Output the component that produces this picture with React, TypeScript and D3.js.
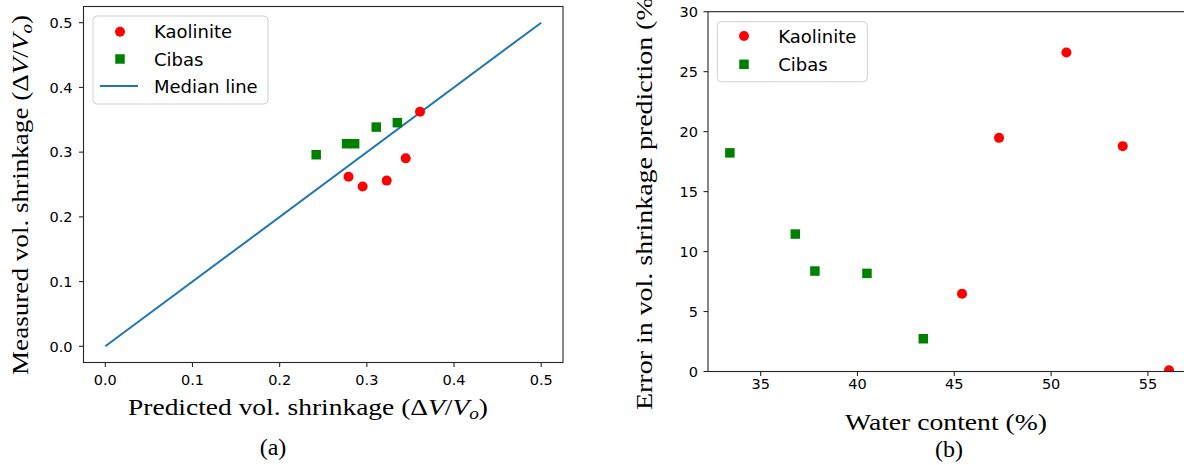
import React from 'react';
import * as d3 from 'd3';

// Panel (a): predicted vs measured volumetric shrinkage
const kaoPredicted = [0.361, 0.3446, 0.279, 0.2952, 0.3228];
const kaoMeasured = [0.3625, 0.2904, 0.262, 0.247, 0.256];
const cibPredicted = [0.2419, 0.2768, 0.286, 0.3108, 0.335];
const cibMeasured = [0.296, 0.313, 0.313, 0.3387, 0.3455];
const medianLine = [0, 0.5];
const aTicks = [0, 0.1, 0.2, 0.3, 0.4, 0.5];

// Panel (b): water content vs prediction error
const kaoWater = [50.79, 47.31, 53.7, 45.4, 56.09];
const kaoError = [26.6, 19.48, 18.79, 6.48, 0.1];
const cibWater = [33.41, 36.79, 37.8, 40.49, 43.4];
const cibError = [18.23, 11.46, 8.375, 8.18, 2.73];
const bXTicks = [35, 40, 45, 50, 55];
const bYTicks = [0, 5, 10, 15, 20, 25, 30];

const RED = '#ff0000';
const GREEN = '#008000';
const BLUE = '#1f77b4';
const SPINE = '#262626';
const SANS = "'DejaVu Sans', sans-serif";
const SERIF = "'Liberation Serif', 'DejaVu Serif', serif";

const MathFrac = () => (
  <>
    <tspan>(Δ</tspan>
    <tspan fontStyle="italic">V</tspan>
    <tspan>/</tspan>
    <tspan fontStyle="italic">V</tspan>
    <tspan fontStyle="italic" fontSize="0.7em" dy="4">o</tspan>
    <tspan dy="-4">)</tspan>
  </>
);

export default function App() {
  const xa = d3.scaleLinear().domain([-0.025, 0.525]).range([83.5, 563]);
  const ya = d3.scaleLinear().domain([-0.025, 0.525]).range([362.5, 6.5]);
  const xb = d3.scaleLinear().domain([32.28, 57.22]).range([708, 1190.9]);
  const yb = d3.scaleLinear().domain([0, 30]).range([371.5, 11.7]);

  const line = d3.line<number>().x((d) => xa(d)).y((d) => ya(d));
  const fmtA = d3.format('.1f');
  const sq = 9.5;

  return (
    <div style={{ position: 'absolute', left: 0, top: 0 }}>
      <svg width={1184} height={465} style={{ display: 'block', background: '#fff' }}>
        <defs>
          <clipPath id="clipB">
            <rect x={xb.range()[0]} y={yb.range()[1]} width={xb.range()[1] - xb.range()[0]} height={yb.range()[0] - yb.range()[1]} />
          </clipPath>
          <clipPath id="clipA">
            <rect x={xa.range()[0]} y={ya.range()[1]} width={xa.range()[1] - xa.range()[0]} height={ya.range()[0] - ya.range()[1]} />
          </clipPath>
        </defs>

        {/* ===== Panel (a) ===== */}
        <g clipPath="url(#clipA)">
          <path d={line(medianLine) || ''} stroke={BLUE} strokeWidth={2} fill="none" />
          {kaoPredicted.map((v, i) => (
            <circle key={'ka' + i} cx={xa(v)} cy={ya(kaoMeasured[i])} r={5} fill={RED} />
          ))}
          {cibPredicted.map((v, i) => (
            <rect key={'ca' + i} x={xa(v) - sq / 2} y={ya(cibMeasured[i]) - sq / 2} width={sq} height={sq} fill={GREEN} />
          ))}
        </g>
        <rect x={xa.range()[0]} y={ya.range()[1]} width={xa.range()[1] - xa.range()[0]} height={ya.range()[0] - ya.range()[1]} fill="none" stroke={SPINE} strokeWidth={1.1} />
        {aTicks.map((t) => (
          <g key={'axt' + t}>
            <line x1={xa(t)} x2={xa(t)} y1={ya.range()[0]} y2={ya.range()[0] + 4.5} stroke={SPINE} strokeWidth={1.1} />
            <text x={xa(t)} y={ya.range()[0] + 22.5} textAnchor="middle" fontFamily={SANS} fontSize={14.5} fill="#000">{fmtA(t)}</text>
            <line x1={xa.range()[0] - 4.5} x2={xa.range()[0]} y1={ya(t)} y2={ya(t)} stroke={SPINE} strokeWidth={1.1} />
            <text x={xa.range()[0] - 11} y={ya(t) + 5.2} textAnchor="end" fontFamily={SANS} fontSize={14.5} fill="#000">{fmtA(t)}</text>
          </g>
        ))}
        <text x={308} y={415} textAnchor="middle" fontFamily={SERIF} fontSize={24} textLength={360} lengthAdjust="spacingAndGlyphs">
          <tspan>Predicted vol. shrinkage </tspan>
          <MathFrac />
        </text>
        <text x={273} y={455} textAnchor="middle" fontFamily={SERIF} fontSize={24}>(a)</text>
        <text transform="translate(28, 195) rotate(-90)" textAnchor="middle" fontFamily={SERIF} fontSize={24} textLength={360} lengthAdjust="spacingAndGlyphs">
          <tspan>Measured vol. shrinkage </tspan>
          <MathFrac />
        </text>

        {/* Legend (a) */}
        <rect x={93} y={16} width={175} height={88} rx={4} fill="#fff" fillOpacity={0.8} stroke="#d0d0d0" strokeWidth={1} />
        <circle cx={120} cy={31.7} r={5} fill={RED} />
        <rect x={120 - sq / 2} y={59 - sq / 2} width={sq} height={sq} fill={GREEN} />
        <line x1={100} x2={138} y1={86} y2={86} stroke={BLUE} strokeWidth={2} />
        <text x={154} y={31.7 + 6.5} fontFamily={SANS} fontSize={18}>Kaolinite</text>
        <text x={154} y={59 + 6.5} fontFamily={SANS} fontSize={18}>Cibas</text>
        <text x={154} y={86 + 6.5} fontFamily={SANS} fontSize={18}>Median line</text>

        {/* ===== Panel (b) ===== */}
        <g clipPath="url(#clipB)">
          {kaoWater.map((v, i) => (
            <circle key={'kb' + i} cx={xb(v)} cy={yb(kaoError[i])} r={5} fill={RED} />
          ))}
          {cibWater.map((v, i) => (
            <rect key={'cb' + i} x={xb(v) - sq / 2} y={yb(cibError[i]) - sq / 2} width={sq} height={sq} fill={GREEN} />
          ))}
        </g>
        <rect x={xb.range()[0]} y={yb.range()[1]} width={xb.range()[1] - xb.range()[0]} height={yb.range()[0] - yb.range()[1]} fill="none" stroke={SPINE} strokeWidth={1.1} />
        {bXTicks.map((t) => (
          <g key={'bxt' + t}>
            <line x1={xb(t)} x2={xb(t)} y1={yb.range()[0]} y2={yb.range()[0] + 4.5} stroke={SPINE} strokeWidth={1.1} />
            <text x={xb(t)} y={yb.range()[0] + 17} textAnchor="middle" fontFamily={SANS} fontSize={14.5} fill="#000">{t}</text>
          </g>
        ))}
        {bYTicks.map((t) => (
          <g key={'byt' + t}>
            <line x1={xb.range()[0] - 4.5} x2={xb.range()[0]} y1={yb(t)} y2={yb(t)} stroke={SPINE} strokeWidth={1.1} />
            <text x={xb.range()[0] - 10} y={yb(t) + 5.2} textAnchor="end" fontFamily={SANS} fontSize={14.5} fill="#000">{t}</text>
          </g>
        ))}
        <text x={946} y={430} textAnchor="middle" fontFamily={SERIF} fontSize={24} textLength={202} lengthAdjust="spacingAndGlyphs">Water content (%)</text>
        <text x={949} y={457} textAnchor="middle" fontFamily={SERIF} fontSize={24}>(b)</text>
        <text transform="translate(652, 199) rotate(-90)" textAnchor="middle" fontFamily={SERIF} fontSize={24} textLength={422} lengthAdjust="spacingAndGlyphs">Error in vol. shrinkage prediction (%)</text>

        {/* Legend (b) */}
        <rect x={717.3} y={21.7} width={150} height={60} rx={4} fill="#fff" fillOpacity={0.8} stroke="#d0d0d0" strokeWidth={1} />
        <circle cx={744} cy={36} r={5} fill={RED} />
        <rect x={744 - sq / 2} y={64.3 - sq / 2} width={sq} height={sq} fill={GREEN} />
        <text x={778.3} y={36 + 6.5} fontFamily={SANS} fontSize={18}>Kaolinite</text>
        <text x={778.3} y={64.3 + 6.5} fontFamily={SANS} fontSize={18}>Cibas</text>
      </svg>
    </div>
  );
}
